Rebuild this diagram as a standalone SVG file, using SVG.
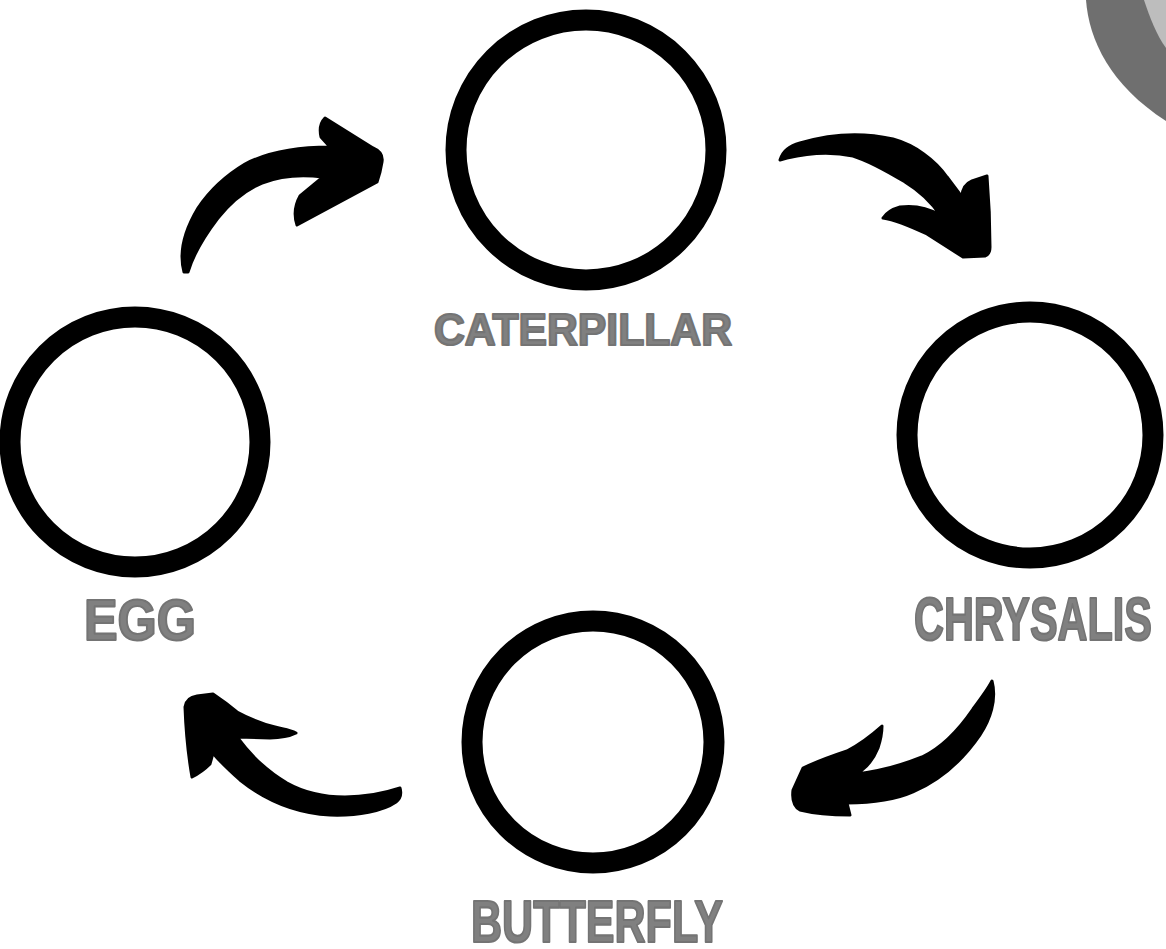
<svg xmlns="http://www.w3.org/2000/svg" width="1166" height="949" viewBox="0 0 1166 949">
<style>
.ring{fill:none;stroke:#000;stroke-width:21}
.lbl{font-family:"Liberation Sans Narrow","Liberation Sans",Arial,sans-serif;font-weight:bold;fill:#808080;stroke:#747474;stroke-width:2.2;stroke-linejoin:round}
.arrow{fill:#000;stroke:#000;stroke-width:3;stroke-linejoin:round}
</style>
<rect width="1166" height="949" fill="#fff"/>
<g id="corner-deco">
<path d="M1086,0 C1089,40 1110,85 1166,121 L1166,0 Z" fill="#6f6f6f"/>
<path d="M1144,0 C1150,18 1157,36 1166,48 L1166,0 Z" fill="#bdbdbd"/>
</g>
<g id="connectors">
<path id="arrow-egg-caterpillar" class="arrow" d="M184,272 C178,250 186,228 198,208 C210,190 225,176 245,164 C270,151 300,147 330,147 L321,137 C319,128 321,122 325,118 L373,148 C380,151 383,156 382,162 L380,172 L377,182 L297,225 C294,216 295,205 300,196 L323,177 C300,174 280,176 262,183 C243,191 230,203 218,218 C205,235 194,252 188,272 Z"/>
<path id="arrow-caterpillar-chrysalis" class="arrow" d="M780,160 C783,150 790,146 800,143 C830,134 862,132 893,139 C915,145 935,160 947,177 L962,197 C962,190 965,184 972,181 L987,176 C989,200 990,225 990,247 C990,252 988,255 985,256 L963,257 L927,234 C910,226 896,220 883,218 C887,212 893,209 900,207 C915,205 928,208 940,215 C930,200 918,190 905,182 C890,173 872,162 853,156 C830,151 808,153 787,158 Z"/>
<path id="arrow-chrysalis-butterfly" class="arrow" d="M992,681 C997,700 990,720 980,735 C965,757 945,778 913,792 C895,800 870,803 847,803 L850,815 C830,815 812,813 800,810 C793,806 792,798 793,790 L803,768 C818,761 832,756 847,751 C860,744 872,735 882,726 C882,735 880,742 878,748 C874,758 870,764 862,770 L850,775 C875,772 900,766 922,757 C943,747 960,728 973,709 C982,697 988,689 992,681 Z"/>
<path id="arrow-butterfly-egg" class="arrow" d="M185,707 C186,700 190,697 197,696 L213,694 C222,700 230,706 237,712 C250,719 262,724 275,727 C282,729 290,730 296,733 C288,737 280,738 270,738 L237,737 C248,752 265,770 287,783 C305,793 325,797 345,797 C365,797 385,793 400,788 C402,795 400,799 396,802 C383,811 358,816 330,815 C295,813 265,800 240,780 C230,771 220,762 213,753 C212,757 211,760 210,764 C204,770 198,774 192,777 C189,760 186,735 185,707 Z"/>
</g>
<g id="node-caterpillar">
<circle class="ring" cx="586" cy="150" r="130"/>
<text class="lbl" x="583" y="345" font-size="45" text-anchor="middle" textLength="298" lengthAdjust="spacingAndGlyphs">CATERPILLAR</text>
</g>
<g id="node-chrysalis">
<circle class="ring" cx="1030" cy="435" r="123"/>
<text class="lbl" x="1033" y="640" font-size="62" text-anchor="middle" textLength="238" lengthAdjust="spacingAndGlyphs">CHRYSALIS</text>
</g>
<g id="node-butterfly">
<circle class="ring" cx="593" cy="742" r="121"/>
<text class="lbl" x="597" y="942" font-size="60" text-anchor="middle" textLength="252" lengthAdjust="spacingAndGlyphs">BUTTERFLY</text>
</g>
<g id="node-egg">
<circle class="ring" cx="135" cy="442" r="125"/>
<text class="lbl" x="140" y="640" font-size="57" text-anchor="middle" textLength="112" lengthAdjust="spacingAndGlyphs">EGG</text>
</g>
</svg>
